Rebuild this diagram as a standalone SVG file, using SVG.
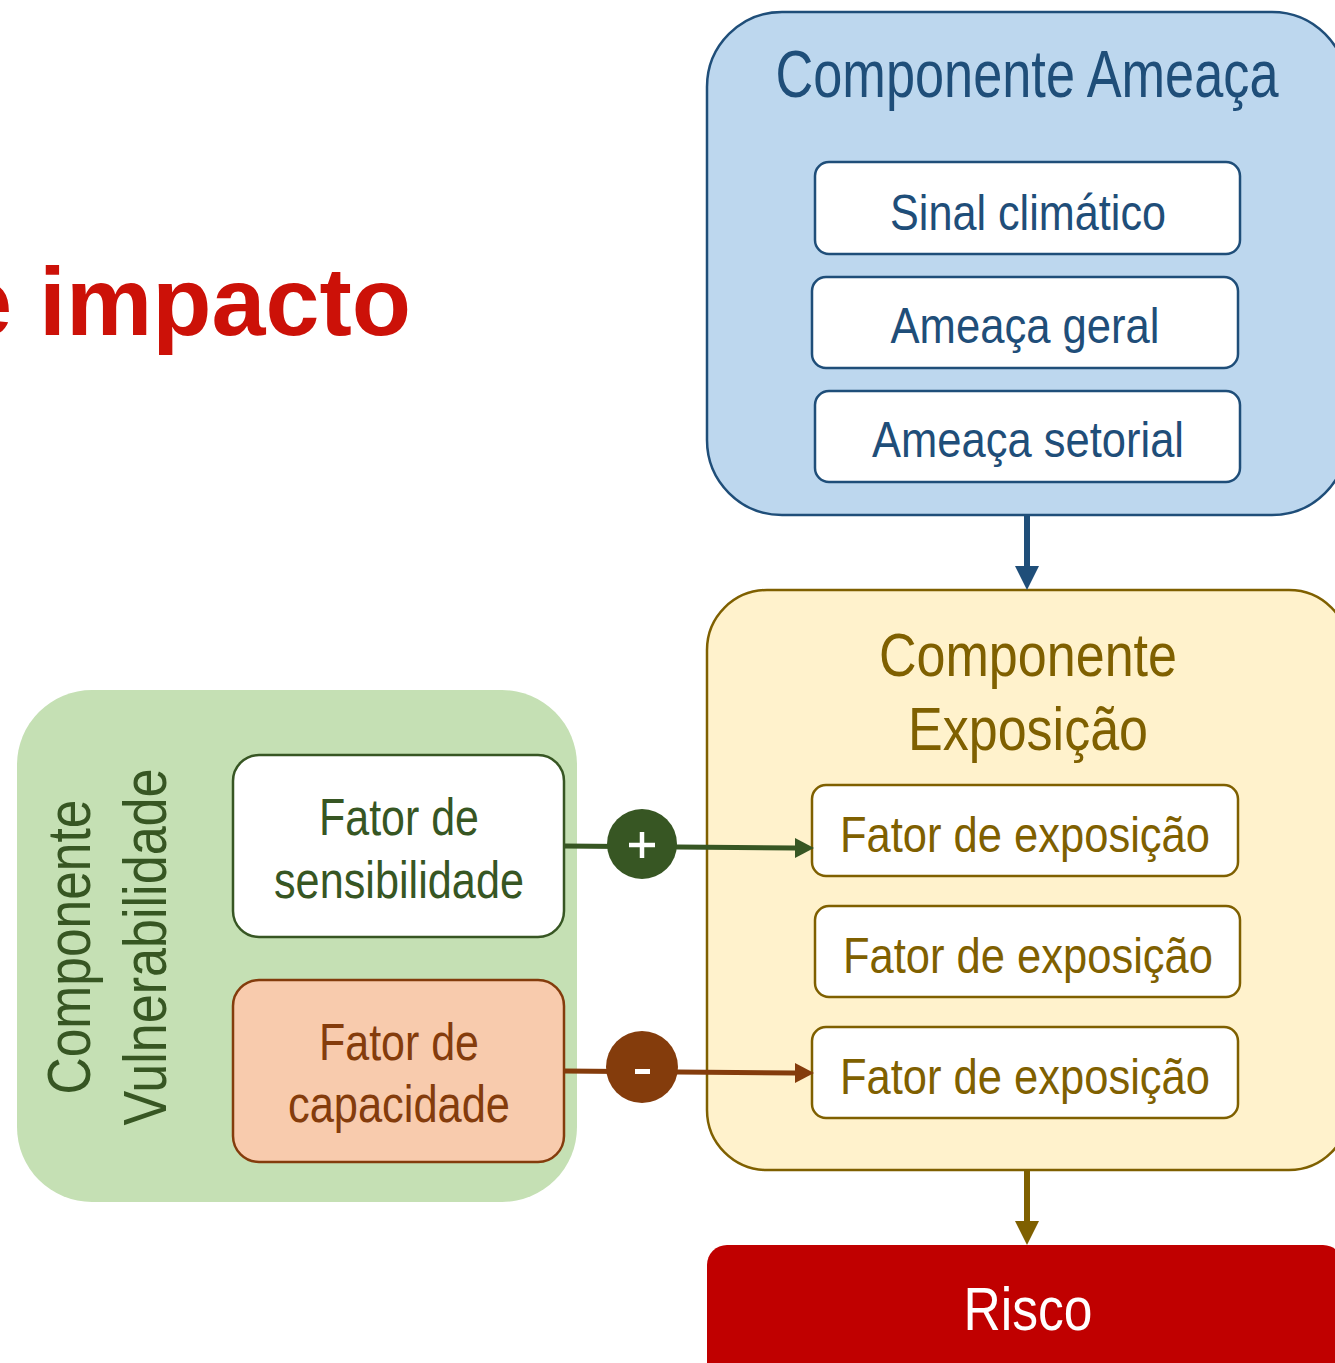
<svg xmlns="http://www.w3.org/2000/svg" width="1335" height="1363" viewBox="0 0 1335 1363">
<style>
  text { font-family: "Liberation Sans Narrow", "Liberation Sans", Arial, sans-serif; }
  .c { text-anchor: middle; }
  .blue { fill: #1F4E79; }
  .gold { fill: #7F6000; }
  .green { fill: #375623; }
  .brown { fill: #843C0C; }
  .ibox { fill: #FFFFFF; stroke-width: 2.5; }
</style>
<rect width="1335" height="1363" fill="#FFFFFF"/>

<g id="title">
  <text x="411" y="335" style="font-family:'Liberation Sans',Arial,sans-serif;font-weight:bold;font-size:97px;fill:#CC1108;text-anchor:end">e impacto</text>
</g>

<g id="ameaca">
  <rect x="707" y="12" width="640" height="503" rx="75" fill="#BDD7EE" stroke="#1F4E79" stroke-width="2.5"/>
  <text x="1027" y="97" class="c blue" font-size="66" textLength="503" lengthAdjust="spacingAndGlyphs">Componente Ameaça</text>
</g>
<g id="sinal">
  <rect x="815" y="162" width="425" height="92" rx="14" class="ibox" stroke="#1F4E79"/>
  <text x="1028" y="230" class="c blue" font-size="50" textLength="276" lengthAdjust="spacingAndGlyphs">Sinal climático</text>
</g>
<g id="ameaca-geral">
  <rect x="812" y="277" width="426" height="91" rx="14" class="ibox" stroke="#1F4E79"/>
  <text x="1025" y="343" class="c blue" font-size="50" textLength="269" lengthAdjust="spacingAndGlyphs">Ameaça geral</text>
</g>
<g id="ameaca-setorial">
  <rect x="815" y="391" width="425" height="91" rx="14" class="ibox" stroke="#1F4E79"/>
  <text x="1028" y="457" class="c blue" font-size="50" textLength="312" lengthAdjust="spacingAndGlyphs">Ameaça setorial</text>
</g>

<g id="exposicao">
  <rect x="707" y="590" width="642" height="580" rx="60" fill="#FFF2CC" stroke="#7F6000" stroke-width="2.5"/>
  <text x="1028" y="676" class="c gold" font-size="62" textLength="298" lengthAdjust="spacingAndGlyphs">Componente</text>
  <text x="1028" y="750" class="c gold" font-size="62" textLength="240" lengthAdjust="spacingAndGlyphs">Exposição</text>
</g>
<g id="fator-exp-1">
  <rect x="812" y="785" width="426" height="91" rx="14" class="ibox" stroke="#7F6000"/>
  <text x="1025" y="852" class="c gold" font-size="50" textLength="370" lengthAdjust="spacingAndGlyphs">Fator de exposição</text>
</g>
<g id="fator-exp-2">
  <rect x="815" y="906" width="425" height="91" rx="14" class="ibox" stroke="#7F6000"/>
  <text x="1028" y="973" class="c gold" font-size="50" textLength="370" lengthAdjust="spacingAndGlyphs">Fator de exposição</text>
</g>
<g id="fator-exp-3">
  <rect x="812" y="1027" width="426" height="91" rx="14" class="ibox" stroke="#7F6000"/>
  <text x="1025" y="1094" class="c gold" font-size="50" textLength="370" lengthAdjust="spacingAndGlyphs">Fator de exposição</text>
</g>

<g id="risco">
  <rect x="707" y="1245" width="636" height="160" rx="20" fill="#C00000"/>
  <text x="1028" y="1330" class="c" font-size="62" fill="#FFFFFF" textLength="129" lengthAdjust="spacingAndGlyphs">Risco</text>
</g>

<g id="vulnerabilidade">
  <rect x="17" y="690" width="560" height="512" rx="75" fill="#C5E0B4"/>
  <text transform="translate(90 947) rotate(-90)" class="c green" font-size="62" textLength="295" lengthAdjust="spacingAndGlyphs">Componente</text>
  <text transform="translate(166 947) rotate(-90)" class="c green" font-size="62" textLength="357" lengthAdjust="spacingAndGlyphs">Vulnerabilidade</text>
</g>
<g id="sensibilidade">
  <rect x="233" y="755" width="331" height="182" rx="26" fill="#FFFFFF" stroke="#375623" stroke-width="2.5"/>
  <text x="399" y="835" class="c green" font-size="52" textLength="160" lengthAdjust="spacingAndGlyphs">Fator de</text>
  <text x="399" y="898" class="c green" font-size="52" textLength="250" lengthAdjust="spacingAndGlyphs">sensibilidade</text>
</g>
<g id="capacidade">
  <rect x="233" y="980" width="331" height="182" rx="26" fill="#F8CBAD" stroke="#843C0C" stroke-width="2.5"/>
  <text x="399" y="1060" class="c brown" font-size="52" textLength="160" lengthAdjust="spacingAndGlyphs">Fator de</text>
  <text x="399" y="1122" class="c brown" font-size="52" textLength="222" lengthAdjust="spacingAndGlyphs">capacidade</text>
</g>

<g id="connectors">
  <line x1="1027" y1="516" x2="1027" y2="568" stroke="#1F4E79" stroke-width="6"/>
  <path d="M1015,566 L1039,566 L1027,590 z" fill="#1F4E79"/>
  <line x1="1027" y1="1171" x2="1027" y2="1223" stroke="#7F6000" stroke-width="6"/>
  <path d="M1015,1221 L1039,1221 L1027,1245 z" fill="#7F6000"/>

  <line x1="564" y1="846" x2="795" y2="848" stroke="#375623" stroke-width="5"/>
  <path d="M795,838 L814,848 L795,858 z" fill="#375623"/>
  <circle cx="642" cy="844" r="35" fill="#375623"/>
  <path d="M629,845 L655,845 M642,832 L642,858" stroke="#FFFFFF" stroke-width="4.5"/>

  <line x1="564" y1="1071" x2="795" y2="1073" stroke="#843C0C" stroke-width="5"/>
  <path d="M795,1063 L814,1073 L795,1083 z" fill="#843C0C"/>
  <circle cx="642" cy="1067" r="36" fill="#843C0C"/>
  <rect x="635" y="1069" width="15" height="5" fill="#FFFFFF"/>
</g>
</svg>
